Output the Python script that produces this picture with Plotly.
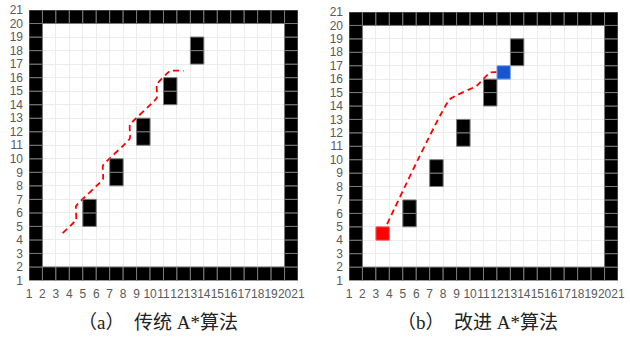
import plotly.graph_objects as go

# Grid map: 20 x 20 cells spanning coordinates 1..21
GRID_MIN, GRID_MAX = 1, 21
tick_values = list(range(1, 22))
tick_labels = [str(t) for t in tick_values]

# Lower-left corners of the obstacle cells inside the map
obstacle_cells = [(5, 5), (5, 6), (7, 8), (7, 9), (9, 11), (9, 12),
                  (11, 14), (11, 15), (13, 17), (13, 18)]
start_cell = (3, 4)
goal_cell = (12, 16)

# Planned paths (cell centres)
trad_x = [3.5, 4.5, 4.5, 6.5, 6.5, 8.5, 8.5, 10.5, 10.5, 11.5, 12.5]
trad_y = [4.5, 5.5, 6.5, 8.5, 9.5, 11.5, 12.5, 14.5, 15.5, 16.5, 16.5]
impr_x = [3.5, 8.5, 10.5, 11.5, 12.5]
impr_y = [4.5, 14.5, 15.5, 16.5, 16.5]

captions = ["（a）　传统 A*算法", "（b）　改进 A*算法"]

# Boundary wall cells around the map
last = GRID_MAX - 1
wall_cells = []
for c in range(GRID_MIN, GRID_MAX):
    for r in range(GRID_MIN, GRID_MAX):
        if c in (GRID_MIN, last) or r in (GRID_MIN, last):
            wall_cells.append((c, r))

fig = go.Figure()


def cell_shape(cell, axis_suffix, fill, edge):
    c, r = cell
    return dict(type="rect", xref="x" + axis_suffix, yref="y" + axis_suffix,
                x0=c, x1=c + 1, y0=r, y1=r + 1,
                fillcolor=fill, line=dict(color=edge, width=1), layer="above")


shapes = []
for suffix in ("", "2"):
    for cell in wall_cells + obstacle_cells:
        shapes.append(cell_shape(cell, suffix, "#000000", "#7a7a7a"))
shapes.append(cell_shape(start_cell, "2", "#ff0000", "#ff6a6a"))
shapes.append(cell_shape(goal_cell, "2", "#1556d0", "#86a6e8"))

line_style = dict(color="#ff0000", width=1.8, dash="6px,4px",
                  shape="spline", smoothing=0.35)
fig.add_trace(go.Scatter(x=trad_x, y=trad_y, mode="lines", line=line_style,
                         xaxis="x", yaxis="y", showlegend=False, hoverinfo="skip"))
fig.add_trace(go.Scatter(x=impr_x, y=impr_y, mode="lines", line=line_style,
                         xaxis="x2", yaxis="y2", showlegend=False, hoverinfo="skip"))

axis_common = dict(range=[GRID_MIN, GRID_MAX], tickmode="array",
                   tickvals=tick_values, ticktext=tick_labels, tickangle=0,
                   showgrid=True, gridcolor="#ececec", gridwidth=1,
                   zeroline=False, showline=False, ticks="", automargin=False,
                   tickfont=dict(family="Liberation Sans, Arial", size=12, color="#5a5a5a"),
                   fixedrange=True)

caption_font = dict(family="Liberation Serif, Times New Roman, Noto Sans CJK SC",
                    size=19, color="#222222")

fig.update_layout(
    width=630, height=337,
    margin=dict(l=0, r=0, t=0, b=0, autoexpand=False),
    paper_bgcolor="white", plot_bgcolor="white",
    xaxis=dict(domain=[29 / 630, 298 / 630], anchor="y", ticklabelstandoff=4, **axis_common),
    yaxis=dict(domain=[(337 - 280.5) / 337, (337 - 10) / 337], anchor="x",
               ticklabelstandoff=5, **axis_common),
    xaxis2=dict(domain=[349 / 630, 618 / 630], anchor="y2", ticklabelstandoff=4, **axis_common),
    yaxis2=dict(domain=[(337 - 280.5) / 337, (337 - 12) / 337], anchor="x2",
                ticklabelstandoff=5, **axis_common),
    shapes=shapes,
    annotations=[
        dict(text=captions[0], xref="paper", yref="paper",
             x=158 / 630, y=(337 - 322) / 337, xanchor="center", yanchor="middle",
             showarrow=False, font=caption_font),
        dict(text=captions[1], xref="paper", yref="paper",
             x=477 / 630, y=(337 - 322) / 337, xanchor="center", yanchor="middle",
             showarrow=False, font=caption_font),
    ],
)

fig.write_html("out.html")
